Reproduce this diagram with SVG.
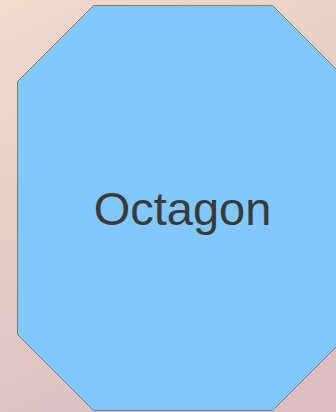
<svg xmlns="http://www.w3.org/2000/svg" width="336" height="412" viewBox="0 0 336 412">
  <defs>
    <linearGradient id="bg" x1="0" y1="0" x2="0.4" y2="1">
      <stop offset="0" stop-color="#f3dacb"/>
      <stop offset="1" stop-color="#ddbfc2"/>
    </linearGradient>
    <style>
      .shape { fill: #80c8ff; stroke: #7a7a7a; stroke-width: 1; }
      .label { font-family: "Liberation Sans", Arial, sans-serif; font-size: 47px; fill: #3a3a3a; text-anchor: middle; }
    </style>
  </defs>
  <rect x="0" y="0" width="336" height="412" fill="url(#bg)"/>
  <g id="octagon">
    <polygon class="shape" points="93.5,5.5 272.5,5.5 348.5,81.5 348.5,334.5 272.5,410.5 93.5,410.5 17.5,334.5 17.5,81.5"/>
    <text class="label" x="182.5" y="225">Octagon</text>
  </g>
  <g id="connectors"/>
</svg>
